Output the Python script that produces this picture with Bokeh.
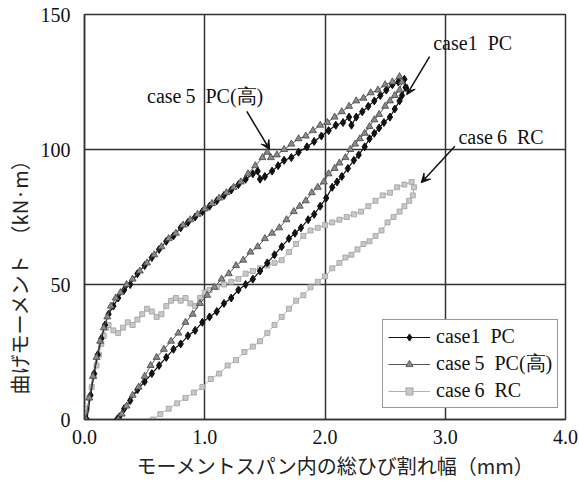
from bokeh.plotting import figure
from bokeh.models import (FixedTicker, PrintfTickFormatter, Legend, LegendItem,
                          Arrow, VeeHead, Label, Range1d)
from bokeh.embed import file_html
from bokeh.resources import INLINE

# ---------------- data ----------------
case1_x = [0.02, 0.05, 0.08, 0.11, 0.14, 0.17, 0.20, 0.24, 0.28, 0.33, 0.38, 0.44, 0.50, 0.56,
           0.62, 0.68, 0.74, 0.80, 0.86, 0.92, 0.98, 1.04, 1.10, 1.16, 1.22, 1.28, 1.34, 1.40,
           1.44, 1.46, 1.50, 1.56, 1.61, 1.66, 1.72, 1.78, 1.85, 1.91, 1.97, 2.03, 2.09, 2.15,
           2.20, 2.22, 2.26, 2.31, 2.36, 2.41, 2.46, 2.51, 2.56, 2.61, 2.66,
           2.67, 2.64, 2.62, 2.58, 2.54, 2.49, 2.45, 2.41, 2.37, 2.33, 2.28, 2.24, 2.19, 2.14,
           2.10, 2.06, 2.01, 1.96, 1.91, 1.86, 1.80, 1.75, 1.70, 1.64, 1.58, 1.52, 1.46, 1.40,
           1.34, 1.28, 1.22, 1.16, 1.10, 1.04, 0.98, 0.92, 0.86, 0.80, 0.74, 0.68, 0.62, 0.56,
           0.50, 0.44, 0.38, 0.33, 0.29, 0.27]
case1_y = [0, 9, 17, 24, 30, 35, 39, 42, 45, 48, 50, 54, 57, 60,
           63, 66, 68, 71, 73, 75, 77, 79, 81, 83, 85, 87, 89, 91,
           92, 89, 90, 92, 94, 96, 97, 99, 101, 103, 105, 107, 109, 110,
           112, 109, 112, 114, 116, 118, 120, 122, 124, 125, 126,
           123, 120, 118, 115, 112, 110, 108, 106, 104, 101, 98, 96, 93, 90,
           88, 86, 82, 79, 76, 74, 71, 69, 67, 64, 61, 58, 55, 52,
           50, 48, 45, 43, 40, 38, 36, 33, 31, 28, 26, 23, 20, 17,
           14, 11, 7, 4, 1, 0]

case5_x = [0.01, 0.04, 0.07, 0.10, 0.13, 0.16, 0.19, 0.22, 0.26, 0.30, 0.35, 0.40, 0.46, 0.52,
           0.58, 0.64, 0.70, 0.76, 0.82, 0.88, 0.94, 1.00, 1.06, 1.12, 1.18, 1.24, 1.30, 1.36,
           1.42, 1.48, 1.52, 1.55, 1.60, 1.66, 1.72, 1.78, 1.84, 1.90, 1.96, 2.02, 2.08, 2.14,
           2.20, 2.26, 2.32, 2.38, 2.44, 2.50, 2.56, 2.62,
           2.64, 2.62, 2.58, 2.54, 2.50, 2.45, 2.41, 2.37, 2.33, 2.29, 2.25, 2.21, 2.17, 2.12,
           2.08, 2.03, 1.99, 1.94, 1.89, 1.84, 1.79, 1.74, 1.68, 1.62, 1.56, 1.50, 1.44, 1.38,
           1.32, 1.26, 1.20, 1.14, 1.08, 1.02, 0.96, 0.90, 0.84, 0.78, 0.72, 0.66, 0.60, 0.55,
           0.50, 0.45, 0.40, 0.35, 0.31, 0.28]
case5_y = [0, 8, 16, 23, 29, 34, 38, 42, 45, 47, 50, 52, 55, 58,
           61, 64, 67, 69, 72, 74, 76, 78, 80, 82, 84, 86, 88, 91,
           94, 97, 99, 97, 98, 100, 102, 104, 105, 107, 109, 110, 112, 114,
           116, 118, 119, 121, 122, 124, 125, 127,
           125, 122, 120, 118, 116, 113, 111, 108.5, 106, 104, 102, 100, 97, 95,
           93, 91, 88, 86, 84, 81, 79, 77, 74, 71, 69, 67, 64, 62,
           59, 57, 54, 52, 49, 46, 43, 39, 36, 32, 29, 26, 23, 20,
           16, 12, 9, 5, 2, 0]

case6_x = [0.00, 0.02, 0.04, 0.06, 0.08, 0.10, 0.12, 0.14, 0.16, 0.18, 0.20, 0.24, 0.28, 0.32,
           0.36, 0.40, 0.44, 0.48, 0.52, 0.56, 0.60, 0.64, 0.68, 0.72, 0.76, 0.80, 0.84, 0.88,
           0.92, 0.96, 1.00, 1.04, 1.10, 1.16, 1.22, 1.28, 1.34, 1.40, 1.46, 1.52, 1.58, 1.64,
           1.70, 1.76, 1.82, 1.88, 1.94, 2.00, 2.06, 2.12, 2.18, 2.24, 2.30, 2.36, 2.42, 2.48,
           2.54, 2.60, 2.66, 2.72,
           2.74, 2.73, 2.70, 2.66, 2.62, 2.57, 2.52, 2.47, 2.42, 2.37, 2.32, 2.27, 2.22, 2.17,
           2.12, 2.06, 2.00, 1.94, 1.88, 1.82, 1.76, 1.70, 1.64, 1.58, 1.52, 1.46, 1.40, 1.33,
           1.26, 1.19, 1.12, 1.05, 0.98, 0.91, 0.84, 0.77, 0.70, 0.63, 0.57]
case6_y = [0, 4, 8, 12, 16, 20, 24, 28, 31, 34, 35, 33, 32, 34,
           36, 35, 37, 39, 41, 40, 38, 39, 42, 44, 45, 44, 45, 43,
           42, 45, 47, 48, 49, 50, 51, 52, 54, 55, 56, 57, 58, 59,
           62, 65, 68, 70, 71, 72, 73, 74, 75, 76, 77, 79, 81, 83,
           84, 86, 87, 88,
           86, 83, 81, 79, 77, 75, 73, 70, 68, 66, 65, 63, 61, 60,
           58, 56, 53, 51, 49, 46, 44, 41, 38, 35, 32, 29, 27, 25,
           22, 20, 17, 15, 12, 10, 8, 6, 4, 2, 0]

NB = "\u00a0"
series_labels = ["case1" + NB * 2 + "PC", "case\u20095" + NB * 2 + "PC(高)", "case\u20096" + NB * 2 + "RC"]
x_ticks = [0, 1, 2, 3, 4]
y_ticks = [0, 50, 100, 150]
x_title = "　モーメントスパン内の総ひび割れ幅（mm）"
y_title = "曲げモーメント　（kN·m）" + "　" * 6

SERIF = "Liberation Serif"
CJK = "Noto Sans CJK JP"

# ---------------- figure ----------------
p = figure(width=579, height=482, output_backend="svg", toolbar_location=None,
           x_range=Range1d(0, 4), y_range=Range1d(0, 150),
           min_border_left=84, min_border_right=14, min_border_top=14, min_border_bottom=61)
p.background_fill_color = "white"
p.border_fill_color = "white"
p.outline_line_color = "#333333"
p.outline_line_width = 1.5

for ax in (p.xaxis[0], p.yaxis[0]):
    ax.major_tick_line_color = None
    ax.minor_tick_line_color = None
    ax.axis_line_color = "#333333"
    ax.axis_line_width = 1.5
    ax.major_label_text_font = SERIF
    ax.major_label_text_font_size = "20px"
    ax.major_label_text_color = "#111111"
    ax.axis_label_text_font = CJK
    ax.axis_label_text_font_size = "20px"
    ax.axis_label_text_font_style = "normal"
    ax.axis_label_text_color = "#222222"

p.xaxis.ticker = FixedTicker(ticks=x_ticks)
p.yaxis.ticker = FixedTicker(ticks=y_ticks)
p.xaxis.formatter = PrintfTickFormatter(format="%.1f")
p.yaxis.formatter = PrintfTickFormatter(format="%d")
p.xaxis.major_label_standoff = 4
p.yaxis.major_label_standoff = 8
p.xaxis.axis_label = x_title
p.yaxis.axis_label = y_title
p.xaxis.axis_label_standoff = 4
p.yaxis.axis_label_standoff = 4

p.xgrid.ticker = FixedTicker(ticks=x_ticks)
p.ygrid.ticker = FixedTicker(ticks=y_ticks)
for g in (p.xgrid[0], p.ygrid[0]):
    g.grid_line_color = "#333333"
    g.grid_line_width = 1.5

# ---------------- series ----------------
l6 = p.line(case6_x, case6_y, line_color="#b0b0b0", line_width=1)
s6 = p.scatter(case6_x, case6_y, marker="square", size=5, fill_color="#c8c8c8",
               line_color="#a0a0a0", line_width=0.8)
l1 = p.line(case1_x, case1_y, line_color="#111111", line_width=1.2)
s1 = p.scatter(case1_x, case1_y, marker="diamond", size=8, fill_color="#111111",
               line_color="#111111")
l5 = p.line(case5_x, case5_y, line_color="#555555", line_width=1)
s5 = p.scatter(case5_x, case5_y, marker="triangle", size=7, fill_color="#8a8a8a",
               line_color="#444444", line_width=0.8)

legend = Legend(items=[LegendItem(label=series_labels[0], renderers=[l1, s1]),
                       LegendItem(label=series_labels[1], renderers=[l5, s5]),
                       LegendItem(label=series_labels[2], renderers=[l6, s6])],
                location=(298, 11))
legend.label_text_font = SERIF
legend.label_text_font_size = "20px"
legend.label_text_color = "#111111"
legend.glyph_width = 42
legend.glyph_height = 18
legend.label_height = 18
legend.label_standoff = 6
legend.spacing = 2
legend.padding = 5
legend.margin = 0
legend.border_line_color = "#333333"
legend.border_line_width = 1.2
legend.background_fill_color = "white"
legend.background_fill_alpha = 1.0
p.add_layout(legend, "center")

# ---------------- annotations ----------------
ann_text = series_labels
ann_x = [2.90, 0.52, 3.11]
ann_y = [139.5, 119.7, 104.6]
arr_x0 = [2.87, 1.35, 3.08]
arr_y0 = [134.4, 114.1, 101.2]
arr_x1 = [2.68, 1.54, 2.80]
arr_y1 = [120.3, 100.0, 87.7]

for t, x, y in zip(ann_text, ann_x, ann_y):
    p.add_layout(Label(x=x, y=y, text=t, text_font=SERIF, text_font_size="20px",
                       text_color="#111111", text_baseline="alphabetic", text_align="left"))
for xs, ys, xe, ye in zip(arr_x0, arr_y0, arr_x1, arr_y1):
    p.add_layout(Arrow(x_start=xs, y_start=ys, x_end=xe, y_end=ye,
                       line_color="#111111", line_width=1.5,
                       end=VeeHead(size=9, fill_color="#111111", line_color="#111111")))

open("out.html", "w").write(file_html(p, INLINE))
